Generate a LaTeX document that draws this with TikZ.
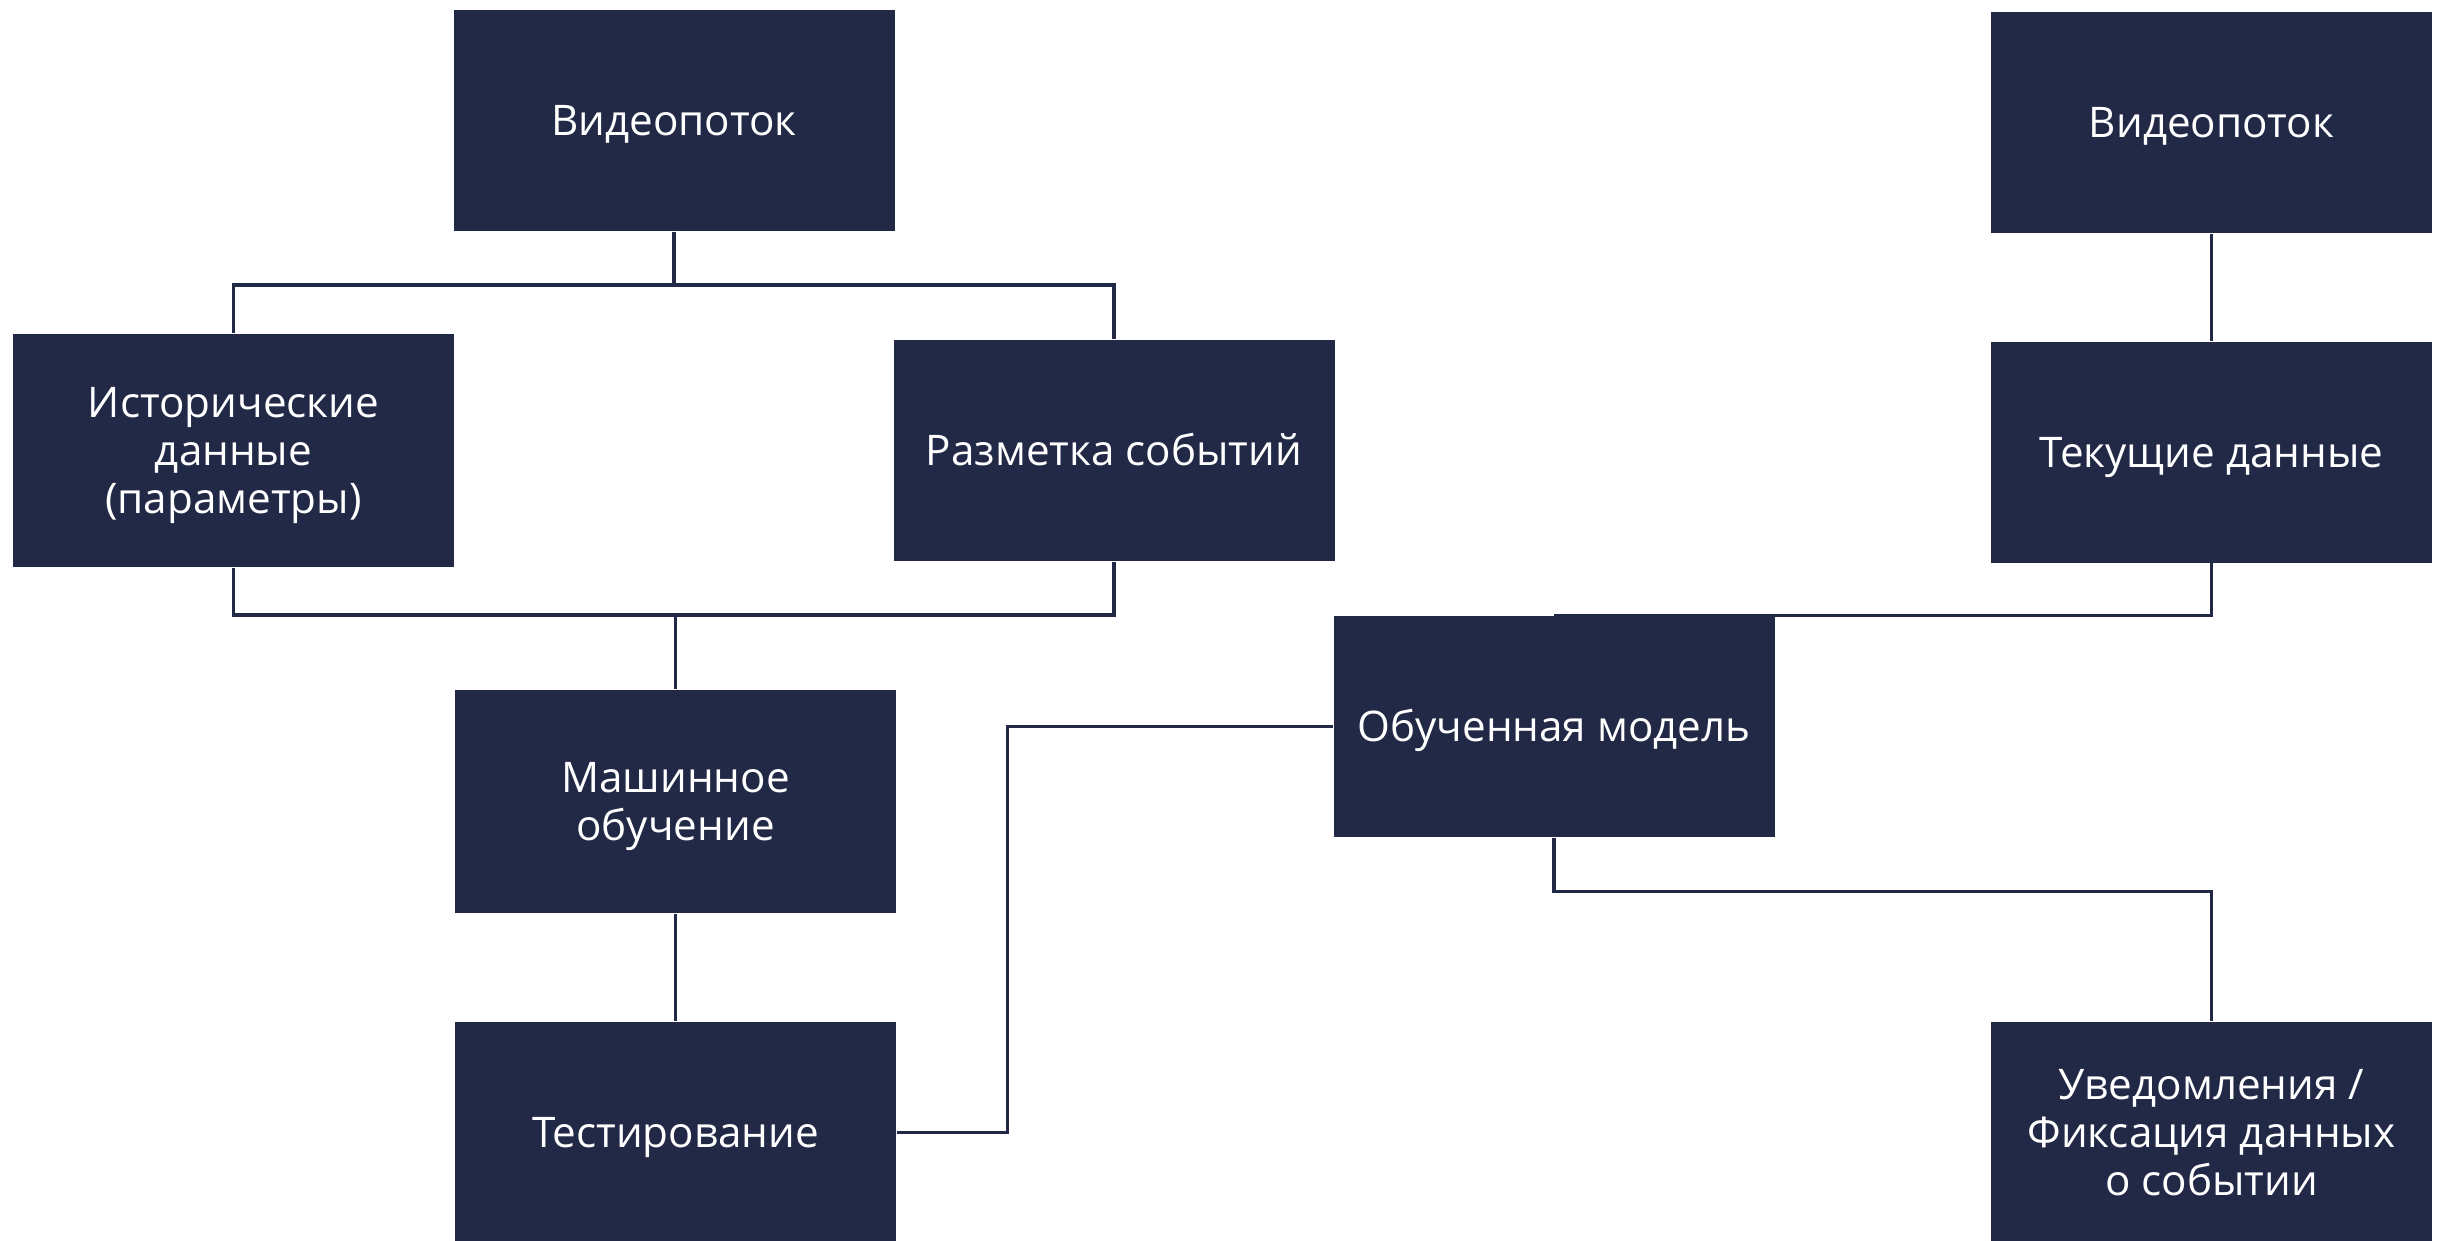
\documentclass[tikz,border=0pt]{standalone}
\usepackage{fontspec}
\setmainfont{Open Sans}
\usepackage{xcolor}
\usetikzlibrary{positioning,calc}
\definecolor{Navy}{HTML}{212946}
% text lines of a box, set a little lower so the capitals sit in the middle
\newcommand{\tekst}[1]{\raisebox{-1.6pt}[\height][\depth]{\begin{tabular}{@{}c@{}}#1\end{tabular}}}

\tikzset{
  blok/.style={rectangle, fill=Navy, text=white, inner sep=0pt,
    minimum width=4.41cm, minimum height=2.21cm,
    font=\fontsize{12}{13.6}\selectfont},
  link/.style={draw=Navy, line width=0.9pt}
}

\begin{document}
\begin{tikzpicture}
  \useasboundingbox (0,0) rectangle (24.46,-12.40);
  \clip (0,0) rectangle (24.46,-12.40);

  % left part: training
  \node[blok] (video1) at (6.74,-1.205) {\tekst{Видеопоток}};
  \node[blok, minimum height=2.33cm] (istor) at (2.335,-4.505) {\tekst{Исторические\\данные\\(параметры)}};
  \node[blok] (razmetka) at (11.14,-4.505) {\tekst{Разметка событий}};
  \node[blok, minimum height=2.23cm] (mashin) at (6.755,-8.015) {\tekst{Машинное\\обучение}};
  \node[blok] (test) at (6.755,-11.325) {\tekst{Тестирование}};

  % right part: work
  \node[blok] (model) at (15.54,-7.265) {\tekst{Обученная модель}};
  \node[blok] (video2) at (22.115,-1.225) {\tekst{Видеопоток}};
  \node[blok] (tekush) at (22.115,-4.52) {\tekst{Текущие данные}};
  \node[blok] (uvedom) at (22.115,-11.325) {\tekst{Уведомления /\\Фиксация данных\\о событии}};

  \coordinate (shina1) at (6.74,-2.85);
  \coordinate (shina2) at (6.755,-6.15);

  \draw[link] (video1.south) -- (shina1);
  \draw[link] (istor.north) |- (shina1) -| (razmetka.north);
  \draw[link] (istor.south) |- (shina2) -| (razmetka.south);
  \draw[link] (shina2) -- (mashin.north);
  \draw[link] (mashin) -- (test);
  \draw[link] (test.east) -- ++(1.11,0) |- (model.west);
  \draw[link] (video2) -- (tekush);
  \draw[link] (tekush.south) |- (model.north);
  \draw[link] (model.south) -- ++(0,-0.54) -| (uvedom.north);
\end{tikzpicture}
\end{document}
